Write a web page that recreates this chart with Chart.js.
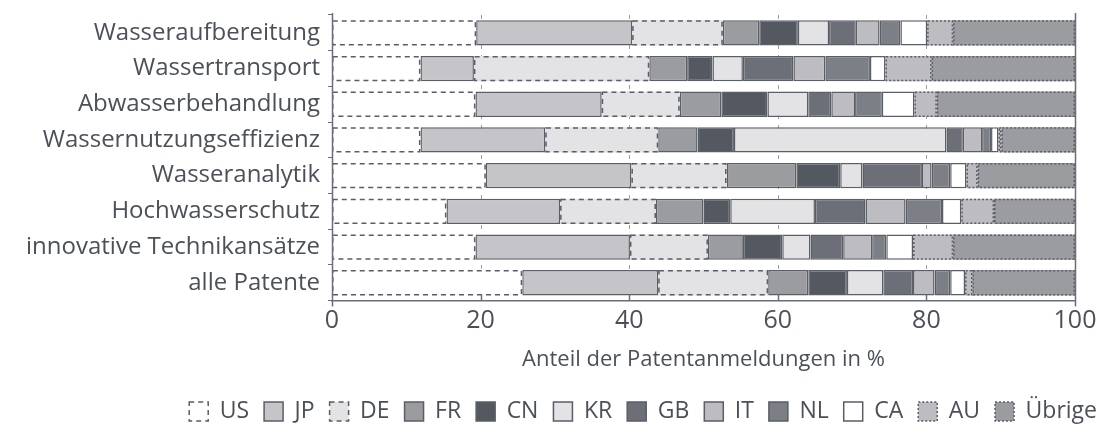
<!DOCTYPE html>
<html>
<head>
<meta charset="utf-8">
<script src="https://cdn.jsdelivr.net/npm/chart.js@4"></script>
<style>
  body { margin: 0; background: #fff; }
  #wrap { width: 1103px; height: 433px; }
</style>
</head>
<body>
<div id="wrap"><canvas id="myChart"></canvas></div>
<script>
const categories = ["Wasseraufbereitung", "Wassertransport", "Abwasserbehandlung", "Wassernutzungseffizienz",
	"Wasseranalytik", "Hochwasserschutz", "innovative Technikansätze", "alle Patente"];

const US = [19.4, 11.9, 19.3, 11.9, 20.7, 15.4, 19.3, 25.6];
const JP = [21.0, 7.2, 17.0, 16.8, 19.6, 15.3, 20.8, 18.3];
const DE = [12.2, 23.6, 10.5, 15.2, 12.8, 12.9, 10.5, 14.8];
const FR = [4.9, 5.1, 5.6, 5.3, 9.4, 6.4, 4.7, 5.4];
const CN = [5.2, 3.4, 6.2, 4.9, 5.9, 3.6, 5.3, 5.2];
const KR = [4.2, 4.1, 5.5, 28.6, 3.0, 11.4, 3.8, 4.9];
const GB = [3.6, 6.8, 3.1, 2.2, 8.0, 6.8, 4.4, 4.0];
const IT = [3.2, 4.3, 3.2, 2.6, 1.3, 5.4, 3.9, 2.9];
const NL = [2.8, 6.0, 3.6, 1.2, 2.5, 4.9, 1.9, 2.1];
const CA = [3.6, 2.1, 4.4, 1.0, 2.2, 2.6, 3.6, 2.0];
const AU = [3.5, 6.2, 3.0, 0.4, 1.5, 4.4, 5.4, 1.0];
const Uebrige = [16.4, 19.3, 18.6, 9.9, 13.1, 10.9, 16.4, 13.8];

const xTicks = [0, 20, 40, 60, 80, 100];

const textColor = "#4b5059";
const edge = "#5a5e66";
const fontName = "'Open Sans', sans-serif";

// [label, data, fill, dash]
const series = [
	["US", US, "#ffffff", [5, 4]],
	["JP", JP, "#c5c5c9", null],
	["DE", DE, "#e3e3e5", [5, 4]],
	["FR", FR, "#9b9ca0", null],
	["CN", CN, "#545861", null],
	["KR", KR, "#e3e3e5", null],
	["GB", GB, "#6c6f77", null],
	["IT", IT, "#bdbdc1", null],
	["NL", NL, "#7c7f86", null],
	["CA", CA, "#ffffff", null],
	["AU", AU, "#bdbdc1", [2, 2]],
	["Übrige", Uebrige, "#9b9ca0", [2, 2]]
];

const datasets = series.map(s => ({
	label: s[0],
	data: s[1],
	backgroundColor: s[2],
	borderColor: edge,
	borderWidth: s[3] ? 0 : 1.5,
	borderSkipped: false,
	barPercentage: 0.71,
	categoryPercentage: 1,
	dash: s[3]
}));

// dashed grid, inner ticks and dashed bar borders
const extras = {
	id: "extras",
	beforeDatasetsDraw(chart) {
		const ctx = chart.ctx;
		const area = chart.chartArea;
		const x = chart.scales.x;
		ctx.save();
		xTicks.forEach(v => {
			const px = Math.round(x.getPixelForValue(v)) + 0.5;
			if (v === 0 || v === 100) return;
			ctx.strokeStyle = "#9a9da3";
			ctx.lineWidth = 1;
			ctx.setLineDash([4, 6]);
			ctx.beginPath();
			ctx.moveTo(px, area.top);
			ctx.lineTo(px, area.bottom);
			ctx.stroke();
		});
		ctx.restore();
	},
	afterDatasetsDraw(chart) {
		const ctx = chart.ctx;
		const area = chart.chartArea;
		const x = chart.scales.x;
		ctx.save();
		chart.data.datasets.forEach((ds, i) => {
			if (!ds.dash) return;
			chart.getDatasetMeta(i).data.forEach(bar => {
				const p = bar.getProps(["x", "y", "base", "height"], true);
				const l = Math.min(p.x, p.base), r = Math.max(p.x, p.base);
				ctx.strokeStyle = edge;
				ctx.lineWidth = 1.5;
				ctx.setLineDash(ds.dash);
				ctx.strokeRect(l + 0.75, p.y - p.height / 2 + 0.75, r - l - 1.5, p.height - 1.5);
			});
		});
		ctx.setLineDash([]);
		ctx.strokeStyle = "#6b6e76";
		ctx.lineWidth = 1.5;
		xTicks.forEach(v => {
			const px = Math.round(x.getPixelForValue(v)) + 0.5;
			ctx.beginPath();
			if (v === 0 || v === 100) {
				ctx.moveTo(px, area.top - 2);
				ctx.lineTo(px, area.bottom + 6);
			} else {
				ctx.moveTo(px, area.bottom - 6);
				ctx.lineTo(px, area.bottom);
			}
			ctx.stroke();
		});
		ctx.restore();
	}
};

const ctx = document.getElementById("myChart").getContext("2d");

new Chart(ctx, {
	type: "bar",
	data: { labels: categories, datasets: datasets },
	options: {
		indexAxis: "y",
		responsive: true,
		maintainAspectRatio: false,
		animation: false,
		layout: { padding: { top: 15, right: -9, left: 0, bottom: 0 } },
		scales: {
			x: {
				stacked: true,
				min: 0,
				max: 100,
				afterBuildTicks: axis => { axis.ticks = xTicks.map(v => ({ value: v })); },
				afterFit: axis => { axis.paddingRight = 28; },
				grid: { display: false },
				border: { display: true, color: "#6b6e76", width: 1.5 },
				ticks: { color: textColor, font: { family: fontName, size: 25 }, padding: -3 },
				title: {
					display: true,
					text: "Anteil der Patentanmeldungen in %",
					color: textColor,
					font: { family: fontName, size: 22 },
					padding: { top: 14, bottom: 12 }
				}
			},
			y: {
				stacked: true,
				afterFit: axis => { axis.width = 332; axis.paddingTop = 0; axis.paddingBottom = 0; },
				grid: { display: true, drawOnChartArea: false, drawTicks: true, tickLength: 4, color: "#6b6e76", offset: true },
				border: { display: false },
				ticks: { color: textColor, font: { family: fontName, size: 24 }, padding: 8 }
			}
		},
		plugins: {
			tooltip: { enabled: false },
			legend: {
				position: "bottom",
				align: "end",
				labels: {
					color: textColor,
					font: { family: fontName, size: 23 },
					boxWidth: 19,
					boxHeight: 19,
					padding: 15,
					generateLabels: chart => chart.data.datasets.map((ds, i) => ({
						text: ds.label,
						fillStyle: ds.backgroundColor,
						strokeStyle: edge,
						lineWidth: 1.5,
						lineDash: ds.dash || [],
						fontColor: textColor,
						datasetIndex: i
					}))
				}
			}
		}
	},
	plugins: [extras]
});
</script>
</body>
</html>
